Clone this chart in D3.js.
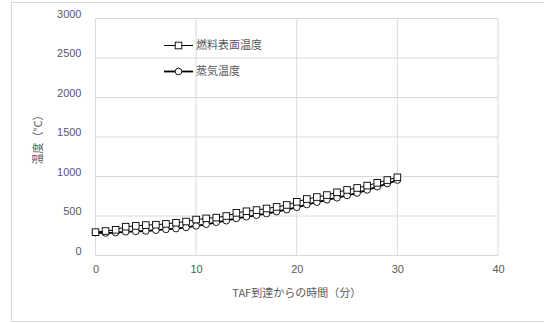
<!DOCTYPE html>
<html><head><meta charset="utf-8">
<script src="https://cdn.jsdelivr.net/npm/d3@7"></script>
<style>body{margin:0;background:#fff;}svg{display:block;font-family:"Noto Sans CJK JP","Noto Sans",sans-serif;}</style>
</head><body>
<svg id="c" width="544" height="323"></svg>
<script>
const minutes = d3.range(0, 31);
const fuelSurfaceTemp = [295,310,325,365,375,385,390,400,415,430,455,470,480,500,540,560,575,595,615,640,680,715,740,765,800,830,855,885,920,955,990];
const steamTemp = [290,285,290,300,305,310,320,330,340,355,375,395,420,440,470,490,510,530,555,580,610,645,675,705,730,760,790,830,870,910,955];
const xTicks = [0,10,20,30,40];
const yTicks = [0,500,1000,1500,2000,2500,3000];
const seriesNames = ["燃料表面温度","蒸気温度"];
const xTitle = "TAF到達からの時間（分）";
const yTitle = "温度（°C）";

const svg = d3.select("#c");
svg.append("rect").attr("x",11.5).attr("y",2.5).attr("width",540).attr("height",319)
  .attr("fill","#fff").attr("stroke","#d9d9d9");

const x = d3.scaleLinear().domain([0,40]).range([95.5,498]);
const y = d3.scaleLinear().domain([0,3000]).range([255.5,18.5]);

svg.append("g").selectAll("line.h").data(yTicks).join("line")
  .attr("x1",x(0)).attr("x2",x(40)).attr("y1",d=>y(d)).attr("y2",d=>y(d))
  .attr("stroke","#d9d9d9").attr("stroke-width",1);
svg.append("g").selectAll("line.v").data(xTicks).join("line")
  .attr("y1",y(0)).attr("y2",y(3000)).attr("x1",d=>x(d)).attr("x2",d=>x(d))
  .attr("stroke","#d9d9d9").attr("stroke-width",1);

const yAxis = d3.axisLeft(y).tickValues(yTicks).tickFormat(d3.format("d")).tickSize(0).tickPadding(14);
const gy = svg.append("g").attr("transform",`translate(${x(0)},0)`).call(yAxis);
gy.select(".domain").remove();
gy.selectAll("text").attr("fill","#595959").style("font-size","11px").attr("dy","-0.1em");

const xAxis = d3.axisBottom(x).tickValues(xTicks).tickFormat(d3.format("d")).tickSize(0).tickPadding(10);
const gx = svg.append("g").attr("transform",`translate(0,${y(0)})`).call(xAxis);
gx.select(".domain").remove();
gx.selectAll("text").attr("fill","#595959").style("font-size","11px");

svg.append("text").attr("x",(x(0)+x(40))/2).attr("y",297).attr("text-anchor","middle")
  .attr("fill","#595959").style("font-size","11px").text(xTitle);
svg.append("text").attr("transform",`translate(42,${(y(0)+y(3000))/2}) rotate(-90)`)
  .attr("text-anchor","middle").attr("fill","#595959").style("font-size","11px").text(yTitle);

const line = d3.line().x((d,i)=>x(minutes[i])).y(d=>y(d));
svg.append("path").datum(steamTemp).attr("d",line).attr("fill","none").attr("stroke","#000").attr("stroke-width",1.8);
svg.append("path").datum(fuelSurfaceTemp).attr("d",line).attr("fill","none").attr("stroke","#000").attr("stroke-width",1);

svg.append("g").selectAll("circle").data(steamTemp).join("circle")
  .attr("cx",(d,i)=>x(minutes[i])).attr("cy",d=>y(d)).attr("r",3.3)
  .attr("fill","#fff").attr("stroke","#000").attr("stroke-width",0.9);
svg.append("g").selectAll("rect").data(fuelSurfaceTemp).join("rect")
  .attr("x",(d,i)=>x(minutes[i])-3.3).attr("y",d=>y(d)-3.3).attr("width",6.6).attr("height",6.6)
  .attr("fill","#fff").attr("stroke","#000").attr("stroke-width",0.9);

const lg = svg.append("g");
const ly = [45.5,71.5];
lg.append("line").attr("x1",164).attr("x2",193).attr("y1",ly[0]).attr("y2",ly[0]).attr("stroke","#000").attr("stroke-width",1);
lg.append("rect").attr("x",175.2).attr("y",ly[0]-3.3).attr("width",6.6).attr("height",6.6).attr("fill","#fff").attr("stroke","#000").attr("stroke-width",0.9);
lg.append("line").attr("x1",164).attr("x2",193).attr("y1",ly[1]).attr("y2",ly[1]).attr("stroke","#000").attr("stroke-width",1.8);
lg.append("circle").attr("cx",178.5).attr("cy",ly[1]).attr("r",3.3).attr("fill","#fff").attr("stroke","#000").attr("stroke-width",0.9);
seriesNames.forEach((n,i)=>{
  lg.append("text").attr("x",196).attr("y",ly[i]).attr("dy","0.35em").attr("fill","#595959").style("font-size","11px").text(n);
});
</script>
</body></html>
